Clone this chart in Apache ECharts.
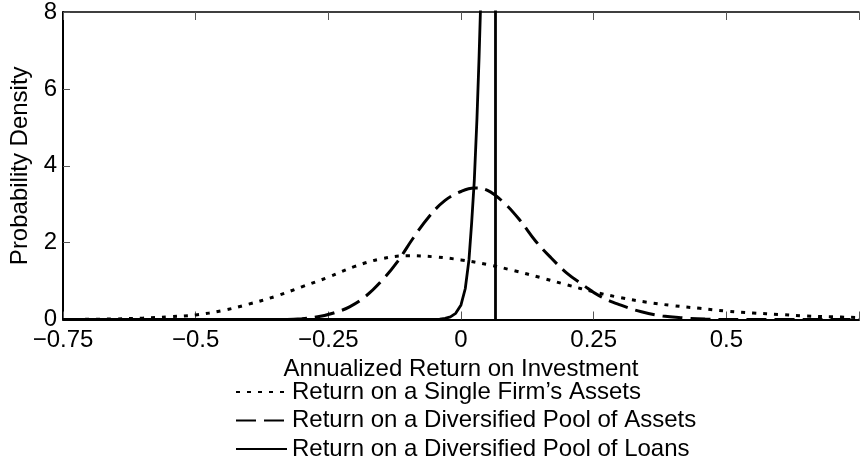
<!DOCTYPE html>
<html>
<head>
<meta charset="utf-8">
<script src="https://cdn.jsdelivr.net/npm/echarts@6/dist/echarts.min.js"></script>
<style>
  html, body { margin: 0; padding: 0; background: #fff; }
  #chart { width: 862px; height: 464px; }
</style>
</head>
<body>
<div id="chart"></div>
<script>
// Series names (legend)
const seriesNames = [
  "Return on a Single Firm\u2019s Assets",
  "Return on a Diversified Pool of Assets",
  "Return on a Diversified Pool of Loans"
];

// Single firm's assets (dotted)
const firmX = [-0.75, -0.70, -0.65, -0.60, -0.55, -0.50, -0.45, -0.40, -0.35, -0.30, -0.25, -0.20, -0.15, -0.10, -0.05, 0.00, 0.05, 0.10, 0.15, 0.20, 0.25, 0.30, 0.35, 0.40, 0.45, 0.50, 0.55, 0.60, 0.65, 0.70, 0.75];
const firmY = [0.0, 0.005, 0.015, 0.035, 0.07, 0.12, 0.23, 0.40, 0.60, 0.85, 1.10, 1.38, 1.58, 1.66, 1.63, 1.55, 1.43, 1.27, 1.09, 0.90, 0.72, 0.57, 0.45, 0.36, 0.29, 0.22, 0.17, 0.13, 0.09, 0.07, 0.05];

// Diversified pool of assets (dashed)
const poolX = [-0.75, -0.33, -0.30, -0.27, -0.24, -0.21, -0.18, -0.15, -0.12, -0.09, -0.06, -0.03, 0.00, 0.025, 0.05, 0.08, 0.11, 0.14, 0.17, 0.20, 0.23, 0.26, 0.30, 0.34, 0.38, 0.42, 0.46, 0.50, 0.75];
const poolY = [0, 0, 0.02, 0.07, 0.17, 0.33, 0.60, 1.00, 1.50, 2.12, 2.68, 3.10, 3.33, 3.42, 3.36, 3.05, 2.60, 2.05, 1.60, 1.20, 0.90, 0.62, 0.38, 0.20, 0.09, 0.04, 0.01, 0, 0];

// Diversified pool of loans (solid)
const loanX = [-0.75, -0.06, -0.04, -0.03, -0.02, -0.01, 0.000, 0.008, 0.015, 0.020, 0.025, 0.030, 0.034, 0.037, 0.045, 0.055, 0.065, 0.065];
const loanY = [0, 0, 0.01, 0.03, 0.07, 0.16, 0.38, 0.80, 1.55, 2.50, 3.60, 5.20, 6.80, 8.20, 14, 24, 40, 0];

// Axis ranges
const xRange = [-0.75, 0.75];
const xStep = 0.25;
const yRange = [0, 8];
const yStep = 2;

const FONT = "'Liberation Sans', Arial, Helvetica, sans-serif";

function pairs(xs, ys) { return xs.map((x, i) => [x, ys[i]]); }

const chart = echarts.init(document.getElementById('chart'), null, { renderer: 'canvas' });

const tickStyle = { show: true, inside: true, length: 8, lineStyle: { color: '#555', width: 1 } };

const option = {
  animation: false,
  backgroundColor: '#fff',
  textStyle: { fontFamily: FONT },
  grid: { left: 63, top: 10, width: 804, height: 309.5, containLabel: false },
  legend: {
    orient: 'vertical',
    left: 235,
    top: 380,
    itemWidth: 51,
    itemHeight: 14,
    itemGap: 4.5,
    padding: 0,
    selectedMode: false,
    itemStyle: { opacity: 0 },
    textStyle: { fontFamily: FONT, fontSize: 24, color: '#000', lineHeight: 24 },
    data: seriesNames
  },
  xAxis: [
    {
      type: 'value',
      position: 'bottom',
      min: xRange[0], max: xRange[1], interval: xStep,
      name: 'Annualized Return on Investment',
      nameLocation: 'middle',
      nameGap: 33,
      nameTextStyle: { fontFamily: FONT, fontSize: 24, color: '#000' },
      axisLine: { show: true, onZero: false, lineStyle: { color: '#000', width: 2 } },
      axisTick: tickStyle,
      splitLine: { show: false },
      axisLabel: {
        fontFamily: FONT, fontSize: 24, color: '#000', margin: 9,
        formatter: function (v) {
          if (Math.abs(v - xRange[1]) < 1e-9) return '';
          if (v < 0) return '\u2212' + String(Math.abs(v));
          return String(v);
        }
      }
    },
    {
      type: 'value',
      position: 'top',
      min: xRange[0], max: xRange[1], interval: xStep,
      axisLine: { show: true, onZero: false, lineStyle: { color: '#000', width: 1.5 } },
      axisTick: tickStyle,
      axisLabel: { show: false },
      splitLine: { show: false }
    }
  ],
  yAxis: {
    type: 'value',
    min: yRange[0], max: yRange[1], interval: yStep,
    name: 'Probability Density',
    nameLocation: 'middle',
    nameGap: 25,
    nameTextStyle: { fontFamily: FONT, fontSize: 24, color: '#000' },
    axisLine: { show: true, onZero: false, lineStyle: { color: '#000', width: 2 } },
    axisTick: { show: true, inside: true, length: 7, lineStyle: { color: '#555', width: 1 } },
    splitLine: { show: false },
    axisLabel: { fontFamily: FONT, fontSize: 24, color: '#000', margin: 6 }
  },
  series: [
    {
      name: seriesNames[0],
      type: 'line',
      xAxisIndex: 0,
      data: pairs(firmX, firmY),
      symbol: 'none',
      smooth: 0.4,
      clip: true,
      lineStyle: { color: '#000', width: 3, type: [4, 7], cap: 'butt' },
      itemStyle: { color: '#000' },
      z: 3
    },
    {
      name: seriesNames[1],
      type: 'line',
      xAxisIndex: 0,
      data: pairs(poolX, poolY),
      symbol: 'none',
      smooth: 0.4,
      clip: true,
      lineStyle: { color: '#000', width: 3, type: [20, 8], cap: 'butt' },
      itemStyle: { color: '#000' },
      z: 3
    },
    {
      name: seriesNames[2],
      type: 'line',
      xAxisIndex: 0,
      data: pairs(loanX, loanY),
      symbol: 'none',
      smooth: false,
      clip: true,
      lineStyle: { color: '#000', width: 2.8, type: 'solid' },
      itemStyle: { color: '#000' },
      z: 4
    }
  ]
};

chart.setOption(option);
</script>
</body>
</html>
